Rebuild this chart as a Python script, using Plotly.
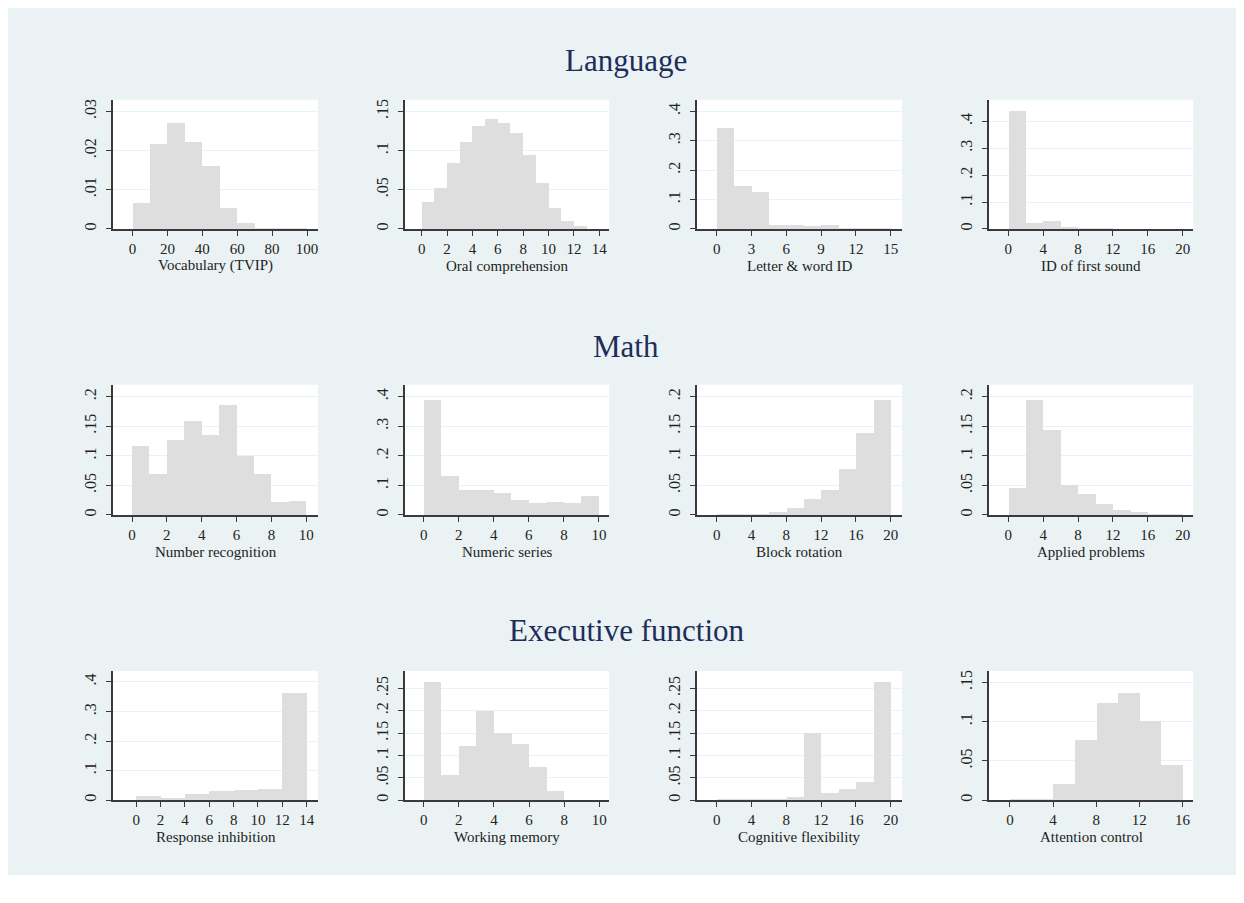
import plotly.graph_objects as go

# figure is placed by the page at (8, 8); all pixel positions below are page pixels
OFF = 8
W, H = 1228, 867

# ---------------- data ----------------
row_titles = ["Language", "Math", "Executive function"]
panel_labels = ["Vocabulary (TVIP)", "Oral comprehension", "Letter & word ID", "ID of first sound",
                "Number recognition", "Numeric series", "Block rotation", "Applied problems",
                "Response inhibition", "Working memory", "Cognitive flexibility", "Attention control"]

bin_start = [0, 0, 0, 0, 0, 0, 0, 0, 0, 0, 0, 0]
bin_width = [10, 1, 1.5, 2, 1, 1, 2, 2, 2, 1, 2, 2]

vocab_density = [0.0068, 0.0217, 0.0270, 0.0222, 0.0161, 0.0053, 0.0016, 0.0003, 0.0002, 0.0001]
oral_density = [0.0352, 0.053, 0.0847, 0.1119, 0.1322, 0.1407, 0.1352, 0.1229, 0.0941, 0.0593,
                0.0267, 0.0102, 0.0042]
letter_density = [0.3446, 0.1458, 0.1254, 0.0147, 0.0147, 0.0102, 0.0147, 0.002, 0.001, 0.001]
sound_density = [0.4395, 0.0235, 0.0296, 0.0074, 0.002, 0.001, 0.0005, 0.0005, 0.0003, 0.0002]
numrec_density = [0.1169, 0.0691, 0.1264, 0.1596, 0.1354, 0.186, 0.1006, 0.0702, 0.023, 0.0242]
numser_density = [0.3899, 0.1337, 0.0865, 0.0865, 0.0764, 0.0506, 0.0427, 0.0461, 0.0404, 0.0663]
block_density = [0.001, 0.001, 0.001, 0.0056, 0.0129, 0.0281, 0.0433, 0.0787, 0.1393, 0.1949]
applied_density = [0.0466, 0.1949, 0.1444, 0.0517, 0.0354, 0.0191, 0.009, 0.0056, 0.0022, 0.0005]
inhib_density = [0.0135, 0.0067, 0.0202, 0.0303, 0.0348, 0.0382, 0.364]
wm_density = [0.2648, 0.0564, 0.1202, 0.1988, 0.1499, 0.1246, 0.0734, 0.02, 0.0, 0.0]
flex_density = [0.001, 0.001, 0.001, 0.001, 0.0067, 0.1513, 0.0163, 0.0245, 0.04, 0.2648]
attn_density = [0.0004, 0.0017, 0.0207, 0.0761, 0.1238, 0.1361, 0.1014, 0.0444]

densities = [vocab_density, oral_density, letter_density, sound_density,
             numrec_density, numser_density, block_density, applied_density,
             inhib_density, wm_density, flex_density, attn_density]

x_ticks = [list(range(0, 101, 20)), list(range(0, 15, 2)), list(range(0, 16, 3)), list(range(0, 21, 4)),
           list(range(0, 11, 2)), list(range(0, 11, 2)), list(range(0, 21, 4)), list(range(0, 21, 4)),
           list(range(0, 15, 2)), list(range(0, 11, 2)), list(range(0, 21, 4)), list(range(0, 17, 4))]

y_ticks = [[0, .01, .02, .03], [0, .05, .1, .15], [0, .1, .2, .3, .4], [0, .1, .2, .3, .4],
           [0, .05, .1, .15, .2], [0, .1, .2, .3, .4], [0, .05, .1, .15, .2], [0, .05, .1, .15, .2],
           [0, .1, .2, .3, .4], [0, .05, .1, .15, .2, .25], [0, .05, .1, .15, .2, .25], [0, .05, .1, .15]]
y_ticklabels = [["0", ".01", ".02", ".03"], ["0", ".05", ".1", ".15"], ["0", ".1", ".2", ".3", ".4"],
                ["0", ".1", ".2", ".3", ".4"], ["0", ".05", ".1", ".15", ".2"], ["0", ".1", ".2", ".3", ".4"],
                ["0", ".05", ".1", ".15", ".2"], ["0", ".05", ".1", ".15", ".2"], ["0", ".1", ".2", ".3", ".4"],
                ["0", ".05", ".1", ".15", ".2", ".25"], ["0", ".05", ".1", ".15", ".2", ".25"],
                ["0", ".05", ".1", ".15"]]

# ---------------- layout (page pixels) ----------------
x_ranges = [(-11.22, 106.3), (-1.316, 14.79), (-1.724, 16.0), (-2.248, 21.22),
            (-1.09, 10.67), (-1.067, 10.59), (-2.3, 21.33), (-2.25, 21.22),
            (-1.91, 14.93), (-1.065, 10.57), (-2.3, 21.33), (-1.97, 17.0)]
y_tops = [0.03297, 0.1649, 0.4397, 0.4804,
          0.2202, 0.4404, 0.2202, 0.2202,
          0.437, 0.2887, 0.2887, 0.1645]

col_px = [(113, 318), (405, 609.3), (696.7, 902.3), (988.7, 1193.3)]
row_px = [(99, 228.7), (385, 515.7), (672.3, 802)]
row_title_y = [60, 347, 632]


def fx(px):
    return (px - OFF) / W


def fy(py):
    return 1 - (py - OFF) / H


FONT = "Liberation Serif"
BAR = "#dedede"
BG = "#eaf2f3"
AX = "#3a3a3a"
TXT = "#222222"
NAVY = "#1f2d5a"
TICK_SIZE = 15
YTICK_SIZE = 16
LABEL_SIZE = 15

fig = go.Figure()
layout = dict(
    width=W, height=H,
    margin=dict(l=0, r=0, t=0, b=0),
    paper_bgcolor=BG,
    plot_bgcolor="white",
    showlegend=False,
    font=dict(family=FONT, color=TXT, size=TICK_SIZE),
    bargap=0,
)
annotations = []

for i in range(12):
    r, c = divmod(i, 4)
    n = i + 1
    xa = "x" if n == 1 else f"x{n}"
    ya = "y" if n == 1 else f"y{n}"
    dens = densities[i]
    w = bin_width[i]
    centers = [bin_start[i] + w * (k + 0.5) for k in range(len(dens))]
    fig.add_trace(go.Bar(x=centers, y=dens, width=[w] * len(dens), xaxis=xa, yaxis=ya,
                         marker=dict(color=BAR, line=dict(width=0)), hoverinfo="x+y"))
    x0, x1 = col_px[c]
    y0, y1 = row_px[r]
    layout["xaxis" if n == 1 else f"xaxis{n}"] = dict(
        domain=[fx(x0), fx(x1)], anchor=ya, range=list(x_ranges[i]),
        tickvals=x_ticks[i], ticktext=[str(v) for v in x_ticks[i]],
        showgrid=False, zeroline=False, showline=True, linecolor=AX, linewidth=1.5,
        ticks="outside", ticklen=5, tickcolor=AX, tickwidth=1.2,
        tickfont=dict(family=FONT, size=TICK_SIZE, color=TXT), fixedrange=True)
    layout["yaxis" if n == 1 else f"yaxis{n}"] = dict(
        domain=[fy(y1), fy(y0)], anchor=xa, range=[0, y_tops[i]],
        tickvals=y_ticks[i], ticktext=y_ticklabels[i], tickangle=-90,
        showgrid=True, gridcolor=BG, gridwidth=1.3, zeroline=False,
        showline=True, linecolor=AX, linewidth=1.5,
        ticks="outside", ticklen=5, tickcolor=AX, tickwidth=1.2, ticklabelstandoff=4,
        tickfont=dict(family=FONT, size=YTICK_SIZE, color=TXT), fixedrange=True)
    annotations.append(dict(text=panel_labels[i], xref="paper", yref="paper",
                            x=fx((x0 + x1) / 2), y=fy(y1 + 37), showarrow=False,
                            xanchor="center", yanchor="middle",
                            font=dict(family=FONT, size=LABEL_SIZE, color=TXT)))

for r in range(3):
    annotations.append(dict(text=row_titles[r], xref="paper", yref="paper",
                            x=fx(626), y=fy(row_title_y[r]), showarrow=False,
                            xanchor="center", yanchor="middle",
                            font=dict(family=FONT, size=31, color=NAVY)))

layout["annotations"] = annotations
fig.update_layout(**layout)
fig.write_html("out.html")
